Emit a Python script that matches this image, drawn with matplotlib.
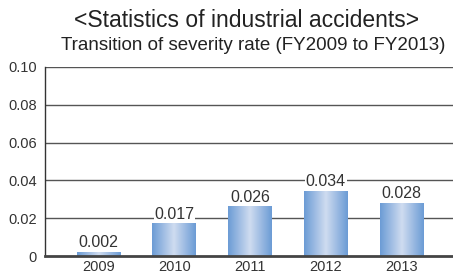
import matplotlib.pyplot as plt
import numpy as np
from matplotlib.colors import LinearSegmentedColormap

years = ["2009", "2010", "2011", "2012", "2013"]
rates = [0.002, 0.017, 0.026, 0.034, 0.028]
labels = ["0.002", "0.017", "0.026", "0.034", "0.028"]
yticks = [0, 0.02, 0.04, 0.06, 0.08, 0.10]
ytick_labels = ["0", "0.02", "0.04", "0.06", "0.08", "0.10"]

plt.rcParams['font.family'] = ['Liberation Sans', 'DejaVu Sans']

fig = plt.figure(figsize=(4.53, 2.75), dpi=100)
ax = fig.add_axes([45/453, 1 - 256/275, 408/453, 189/275])

x = np.arange(len(years))
width = 0.58
ax.set_xlim(-0.71, 4.68)
ax.set_ylim(0, 0.10)

for t in yticks[1:]:
    ax.axhline(t, color="#555555", lw=1.0, zorder=1)

cmap = LinearSegmentedColormap.from_list("bar", ["#6b9bd5", "#cfdcf0", "#6b9bd5"])
grad = np.linspace(0, 1, 256).reshape(1, -1)
bars = ax.bar(x, rates, width=width, color="none", edgecolor="none", zorder=2)
for b in bars:
    x0, w, h = b.get_x(), b.get_width(), b.get_height()
    ax.imshow(grad, cmap=cmap, aspect="auto", extent=[x0, x0 + w, 0, h],
              zorder=2, interpolation="bicubic")

for xi, v, lab in zip(x, rates, labels):
    ax.text(xi, v + 0.0012, lab, ha="center", va="bottom", fontsize=11.5,
            color="#333333", zorder=3,
            bbox=dict(facecolor="white", edgecolor="none", pad=0.5))

ax.set_xticks(x)
ax.set_xticklabels(years, fontsize=10.5, color="#333333")
ax.set_yticks(yticks)
ax.set_yticklabels(ytick_labels, fontsize=10.5, color="#333333")
ax.tick_params(length=0, pad=6)
ax.tick_params(axis="x", pad=3)
for s in ["top", "right"]:
    ax.spines[s].set_visible(False)
ax.spines["left"].set_color("#333333")
ax.spines["left"].set_linewidth(1.0)
ax.spines["bottom"].set_color("#444444")
ax.spines["bottom"].set_linewidth(2.0)

fig.text(0.545, 0.925, "<Statistics of industrial accidents>", ha="center",
         va="center", fontsize=16.5, color="#222222")
fig.text(0.558, 0.835, "Transition of severity rate (FY2009 to FY2013)",
         ha="center", va="center", fontsize=13.5, color="#222222")

fig.savefig("out.png", dpi=100)
